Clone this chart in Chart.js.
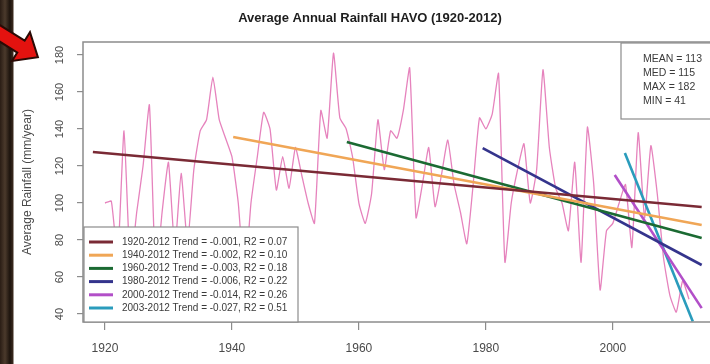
<!DOCTYPE html>
<html>
<head>
<meta charset="utf-8">
<title>Average Annual Rainfall HAVO</title>
<script src="https://cdn.jsdelivr.net/npm/chart.js@4.4.0/dist/chart.umd.min.js"></script>
<style>
html, body { margin: 0; padding: 0; overflow: hidden; }
body {
    width: 710px; height: 364px; position: relative;
    background: linear-gradient(to right, #2a1d15 0px, #4b3a2c 5px, #1c130d 10px, #3a2a1e 13px, #ffffff 14px);
}
#wrap { position: absolute; left: 0; top: 0; width: 730px; height: 364px; }
#arrow { position: absolute; left: 0; top: 0; }
</style>
</head>
<body>
<div id="wrap"><canvas id="rainChart" width="730" height="364"></canvas></div>
<svg id="arrow" width="52" height="80">
    <g transform="translate(4,36) rotate(32)">
        <polygon points="-14,-7 20,-7 20,-17 40,0 20,17 20,7 -14,7" fill="#e3120f" stroke="#2a0a05" stroke-width="2"/>
    </g>
</svg>
<script>
const years = [
    1920, 1921, 1922, 1923, 1924, 1925, 1926, 1927, 1928, 1929,
    1930, 1931, 1932, 1933, 1934, 1935, 1936, 1937, 1938, 1939,
    1940, 1941, 1942, 1943, 1944, 1945, 1946, 1947, 1948, 1949,
    1950, 1951, 1952, 1953, 1954, 1955, 1956, 1957, 1958, 1959,
    1960, 1961, 1962, 1963, 1964, 1965, 1966, 1967, 1968, 1969,
    1970, 1971, 1972, 1973, 1974, 1975, 1976, 1977, 1978, 1979,
    1980, 1981, 1982, 1983, 1984, 1985, 1986, 1987, 1988, 1989,
    1990, 1991, 1992, 1993, 1994, 1995, 1996, 1997, 1998, 1999,
    2000, 2001, 2002, 2003, 2004, 2005, 2006, 2007, 2008, 2009,
    2010, 2011, 2012
];
const rainfall = [
    100, 101, 70, 139, 65, 95, 120, 153, 60, 95,
    122, 75, 116, 78, 118, 139, 145, 168, 145, 135,
    125, 100, 58, 100, 125, 149, 140, 107, 125, 108,
    130, 115, 100, 89, 150, 135, 181, 146, 140, 125,
    100, 89, 105, 145, 118, 139, 135, 150, 173, 92,
    110, 130, 98, 115, 134, 110, 95, 78, 110, 146,
    140, 148, 170, 68, 100, 118, 132, 100, 118, 172,
    130, 108, 100, 85, 122, 68, 141, 110, 53, 85,
    89, 100, 110, 76, 138, 92, 131, 105, 70, 50,
    41, 58, 48
];

// trend lines: start / end of each fitted segment
const trendLabels = [
    "1920-2012 Trend = -0.001, R2 = 0.07",
    "1940-2012 Trend = -0.002, R2 = 0.10",
    "1960-2012 Trend = -0.003, R2 = 0.18",
    "1980-2012 Trend = -0.006, R2 = 0.22",
    "2000-2012 Trend = -0.014, R2 = 0.26",
    "2003-2012 Trend = -0.027, R2 = 0.51"
];
const trendColors = ["#7a2a35", "#f0a656", "#1b6a32", "#34348c", "#b24fc8", "#2a9cbc"];
const trendStartYear = [1918.1, 1940.2, 1958.1, 1979.5, 2000.3, 2001.9];
const trendEndYear = [2014.0, 2014.0, 2014.0, 2014.0, 2014.0, 2012.6];
const trendStartValue = [127.6, 135.7, 133.0, 129.7, 115.1, 127.0];
const trendEndValue = [97.8, 88.1, 81.1, 66.5, 43.2, 36.0];

const statLines = ["MEAN = 113", "MED = 115", "MAX = 182", "MIN = 41"];

const xTicks = [1920, 1940, 1960, 1980, 2000];
const yTicks = [40, 60, 80, 100, 120, 140, 160, 180];

const chartTitle = "Average Annual Rainfall HAVO (1920-2012)";
const fontFamily = "'Liberation Sans', Arial, Helvetica, sans-serif";

const datasets = [];
for (let i = 0; i < trendLabels.length; i++) {
    datasets.push({
        label: trendLabels[i],
        data: [
            { x: trendStartYear[i], y: trendStartValue[i] },
            { x: trendEndYear[i], y: trendEndValue[i] }
        ],
        borderColor: trendColors[i],
        borderWidth: 2.6,
        pointRadius: 0,
        fill: false,
        order: 1
    });
}
datasets.push({
    label: "Rainfall",
    data: years.map((yr, i) => ({ x: yr, y: rainfall[i] })),
    borderColor: "#e683bd",
    borderWidth: 1.3,
    pointRadius: 0,
    tension: 0.15,
    fill: false,
    order: 5
});

// box around the plot, legend, stats box and title
const framePlugin = {
    id: "frame",
    afterDatasetsDraw(chart) {
        const ctx = chart.ctx;
        const area = chart.chartArea;
        ctx.save();

        ctx.strokeStyle = "#8c8c8c";
        ctx.lineWidth = 1.5;
        ctx.strokeRect(area.left, area.top, area.right - area.left, area.bottom - area.top);

        // legend bottom-left
        const lgW = 214, lgH = 95;
        const lgX = area.left + 1, lgY = area.bottom - lgH;
        ctx.fillStyle = "#ffffff";
        ctx.fillRect(lgX, lgY, lgW, lgH);
        ctx.strokeStyle = "#8c8c8c";
        ctx.lineWidth = 1.2;
        ctx.strokeRect(lgX, lgY, lgW, lgH);
        ctx.font = "10px " + fontFamily;
        ctx.textBaseline = "middle";
        ctx.textAlign = "left";
        for (let i = 0; i < trendLabels.length; i++) {
            const rowY = lgY + 15 + i * 13.2;
            ctx.strokeStyle = trendColors[i];
            ctx.lineWidth = 3;
            ctx.beginPath();
            ctx.moveTo(lgX + 5, rowY);
            ctx.lineTo(lgX + 29, rowY);
            ctx.stroke();
            ctx.fillStyle = "#3a3a3a";
            ctx.fillText(trendLabels[i], lgX + 38, rowY);
        }

        // stats top-right
        const stX = 621, stY = area.top + 1;
        ctx.fillStyle = "#ffffff";
        ctx.fillRect(stX, stY, area.right - stX, 76);
        ctx.strokeStyle = "#8c8c8c";
        ctx.lineWidth = 1.2;
        ctx.strokeRect(stX, stY, area.right - stX, 76);
        ctx.fillStyle = "#3a3a3a";
        ctx.font = "10.5px " + fontFamily;
        for (let i = 0; i < statLines.length; i++) {
            ctx.fillText(statLines[i], stX + 22, stY + 16 + i * 14);
        }

        // title
        ctx.fillStyle = "#1e1e1e";
        ctx.font = "bold 13px " + fontFamily;
        ctx.textAlign = "center";
        ctx.fillText(chartTitle, 370, 18);

        ctx.restore();
    }
};

const ctx = document.getElementById("rainChart");
const chart = new Chart(ctx, {
    type: "line",
    data: { datasets: datasets },
    options: {
        responsive: false,
        animation: false,
        layout: { padding: { left: 14, right: 8, top: 42, bottom: 0 } },
        plugins: {
            legend: { display: false },
            tooltip: { enabled: false },
            title: { display: false }
        },
        scales: {
            x: {
                type: "linear",
                min: 1916.54,
                max: 2017.2,
                afterBuildTicks: (scale) => { scale.ticks = xTicks.map(v => ({ value: v })); },
                afterFit: (scale) => { scale.height = 42; },
                border: { display: false },
                grid: { drawOnChartArea: false, drawTicks: true, tickLength: 8, color: "#8c8c8c", lineWidth: 1.2 },
                ticks: {
                    autoSkip: false,
                    maxRotation: 0,
                    padding: 11,
                    color: "#4a4a4a",
                    font: { size: 12, family: fontFamily },
                    callback: (v) => String(v)
                }
            },
            y: {
                type: "linear",
                min: 35.7,
                max: 187,
                afterBuildTicks: (scale) => { scale.ticks = yTicks.map(v => ({ value: v })); },
                afterFit: (scale) => { scale.width = 69; },
                border: { display: false },
                grid: { drawOnChartArea: false, drawTicks: true, tickLength: 6, color: "#8c8c8c", lineWidth: 1.2 },
                ticks: {
                    autoSkip: false,
                    minRotation: 90,
                    maxRotation: 90,
                    crossAlign: "center",
                    padding: 8,
                    color: "#4a4a4a",
                    font: { size: 11, family: fontFamily },
                    callback: (v) => String(v)
                },
                title: {
                    display: true,
                    text: "Average Rainfall (mm/year)",
                    color: "#4a4a4a",
                    font: { size: 12, family: fontFamily },
                    padding: { top: 6, bottom: 0 }
                }
            }
        }
    },
    plugins: [framePlugin]
});
</script>
</body>
</html>
